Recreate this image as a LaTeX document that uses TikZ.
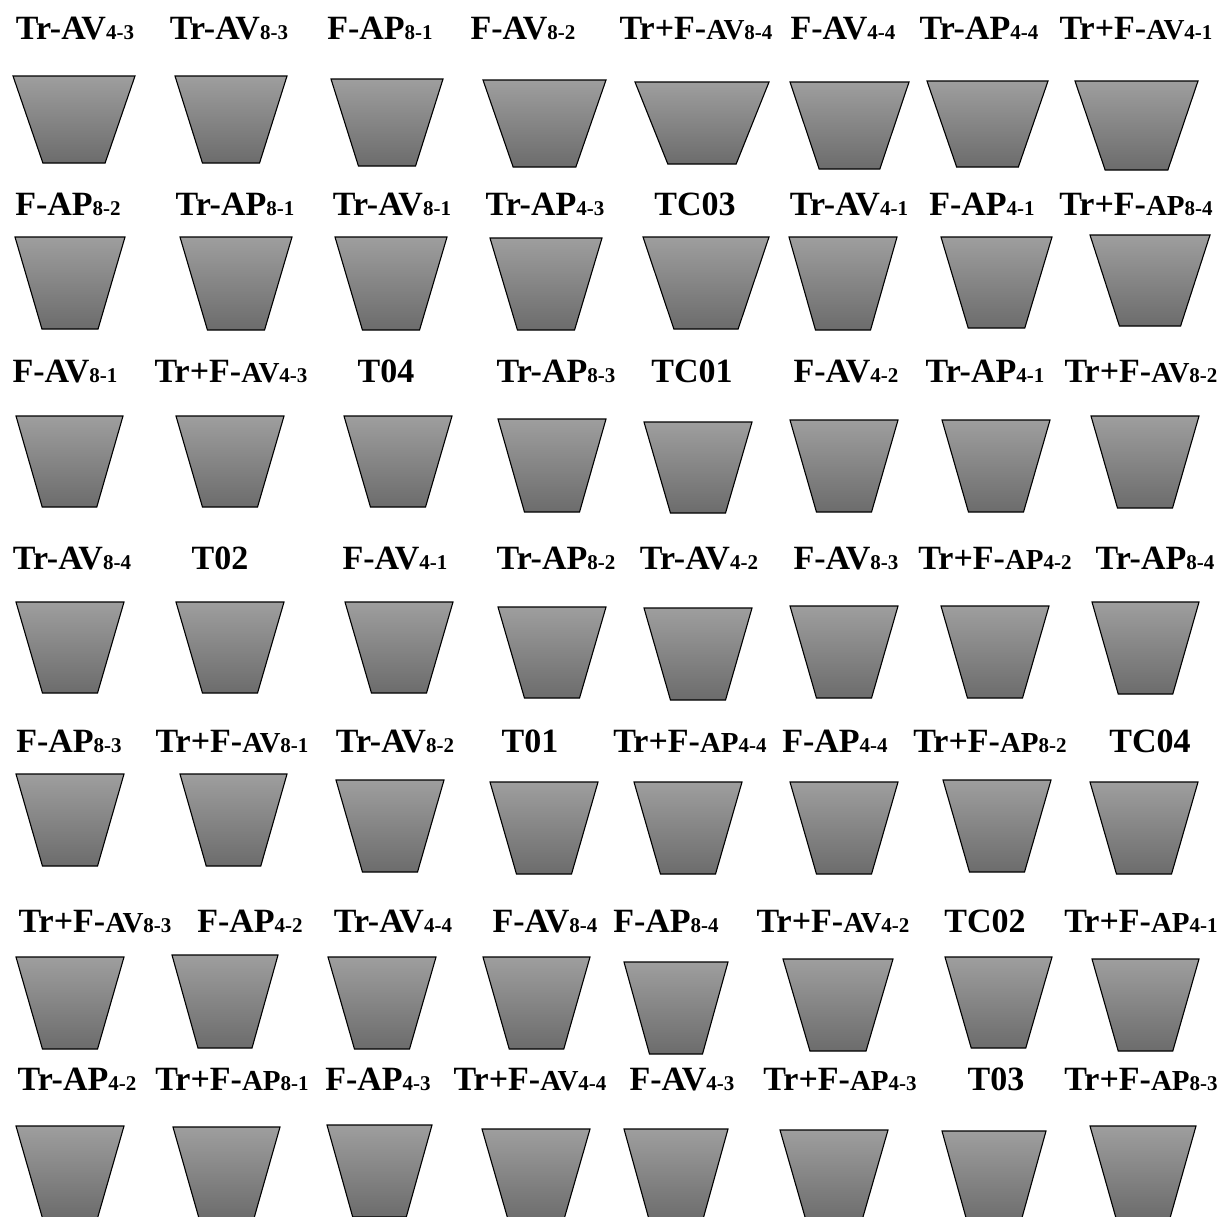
\documentclass[tikz,border=0pt]{standalone}
\usepackage{fontspec}
\setmainfont{Liberation Serif}
\usetikzlibrary{positioning}
\definecolor{beltTop}{HTML}{9E9E9E}
\definecolor{beltBot}{HTML}{6C6C6C}
\tikzset{
  every picture/.style={line width=1.1pt},
  tag/.style={font=\bfseries\fontsize{34}{34}\selectfont, anchor=base, inner sep=0pt},
  belt/.style={draw=black, top color=beltTop, bottom color=beltBot, line join=miter},
}
\newcommand{\sm}[1]{{\fontsize{21}{21}\selectfont #1}}
\newcommand{\md}[1]{{\fontsize{29}{29}\selectfont #1}}
% single treatment label
\newcommand{\ab}[2]{#1\sm{#2}}
% combined treatment label
\newcommand{\tf}[2]{Tr+F-\md{#1}\sm{#2}}

\begin{document}
\begin{tikzpicture}[x=1pt, y=-1pt]
  \clip (0,0) rectangle (1224,1216);
  % belt sections, row by row
  \foreach \xl/\xr/\yt/\yb in {
      13/135/76/163, 175/287/76/163, 331/443/79/166, 483/606/80/167, 635/769/82/164, 790/909/82/169, 927/1048/81/167, 1075/1198/81/170,
      15/125/237/329, 180/292/237/330, 335/447/237/330, 490/602/238/330, 643/769/237/329, 789/897/237/330, 941/1052/237/328, 1090/1210/235/326,
      16/123/416/507, 176/284/416/507, 344/452/416/507, 498/606/419/512, 644/752/422/513, 790/898/420/512, 942/1050/420/512, 1091/1199/416/508,
      16/124/602/693, 176/284/602/693, 345/453/602/693, 498/606/607/698, 644/752/608/700, 790/898/606/698, 941/1049/606/698, 1092/1199/602/694,
      16/124/774/866, 180/287/774/866, 336/444/780/872, 490/598/782/874, 634/742/782/874, 790/898/782/874, 943/1051/780/872, 1090/1198/782/874,
      16/124/957/1049, 172/278/955/1048, 328/436/957/1049, 483/590/957/1049, 624/728/962/1054, 783/893/959/1051, 945/1052/957/1048, 1092/1199/959/1051,
      16/124/1126/1218, 173/280/1127/1219, 327/432/1125/1217, 482/590/1129/1221, 624/728/1129/1221, 780/888/1130/1222, 942/1046/1131/1223, 1090/1196/1126/1218} {
    \pgfmathsetmacro{\ins}{0.245*(\xr-\xl)}
    \shade[belt] (\xl,\yt) -- (\xr,\yt) -- (\xr-\ins,\yb) -- (\xl+\ins,\yb) -- cycle;
  }
  % labels
  \foreach \x/\t [count=\c] in {75/{\ab{Tr-AV}{4-3}}, 229/{\ab{Tr-AV}{8-3}}, 380/{\ab{F-AP}{8-1}}, 523/{\ab{F-AV}{8-2}},
      696/{\tf{AV}{8-4}}, 843/{\ab{F-AV}{4-4}}, 979/{\ab{Tr-AP}{4-4}}, 1136/{\tf{AV}{4-1}}}
    \node[tag] (r1-\c) at (\x,39) {\t};
  \foreach \x/\t [count=\c] in {68/{\ab{F-AP}{8-2}}, 235/{\ab{Tr-AP}{8-1}}, 392/{\ab{Tr-AV}{8-1}}, 545/{\ab{Tr-AP}{4-3}},
      695/{TC03}, 849/{\ab{Tr-AV}{4-1}}, 982/{\ab{F-AP}{4-1}}, 1136/{\tf{AP}{8-4}}}
    \node[tag] (r2-\c) at (\x,215) {\t};
  \foreach \x/\t [count=\c] in {65/{\ab{F-AV}{8-1}}, 231/{\tf{AV}{4-3}}, 386/{T04}, 556/{\ab{Tr-AP}{8-3}},
      692/{TC01}, 846/{\ab{F-AV}{4-2}}, 985/{\ab{Tr-AP}{4-1}}, 1141/{\tf{AV}{8-2}}}
    \node[tag] (r3-\c) at (\x,382) {\t};
  \foreach \x/\t [count=\c] in {72/{\ab{Tr-AV}{8-4}}, 220/{T02}, 395/{\ab{F-AV}{4-1}}, 556/{\ab{Tr-AP}{8-2}},
      699/{\ab{Tr-AV}{4-2}}, 846/{\ab{F-AV}{8-3}}, 995/{\tf{AP}{4-2}}, 1155/{\ab{Tr-AP}{8-4}}}
    \node[tag] (r4-\c) at (\x,569) {\t};
  \foreach \x/\t [count=\c] in {69/{\ab{F-AP}{8-3}}, 232/{\tf{AV}{8-1}}, 395/{\ab{Tr-AV}{8-2}}, 530/{T01},
      690/{\tf{AP}{4-4}}, 835/{\ab{F-AP}{4-4}}, 990/{\tf{AP}{8-2}}, 1150/{TC04}}
    \node[tag] (r5-\c) at (\x,752) {\t};
  \foreach \x/\t [count=\c] in {95/{\tf{AV}{8-3}}, 250/{\ab{F-AP}{4-2}}, 393/{\ab{Tr-AV}{4-4}}, 545/{\ab{F-AV}{8-4}},
      666/{\ab{F-AP}{8-4}}, 833/{\tf{AV}{4-2}}, 985/{TC02}, 1141/{\tf{AP}{4-1}}}
    \node[tag] (r6-\c) at (\x,932) {\t};
  \foreach \x/\t [count=\c] in {77/{\ab{Tr-AP}{4-2}}, 232/{\tf{AP}{8-1}}, 378/{\ab{F-AP}{4-3}}, 530/{\tf{AV}{4-4}},
      682/{\ab{F-AV}{4-3}}, 840/{\tf{AP}{4-3}}, 996/{T03}, 1141/{\tf{AP}{8-3}}}
    \node[tag] (r7-\c) at (\x,1090) {\t};
\end{tikzpicture}
\end{document}
